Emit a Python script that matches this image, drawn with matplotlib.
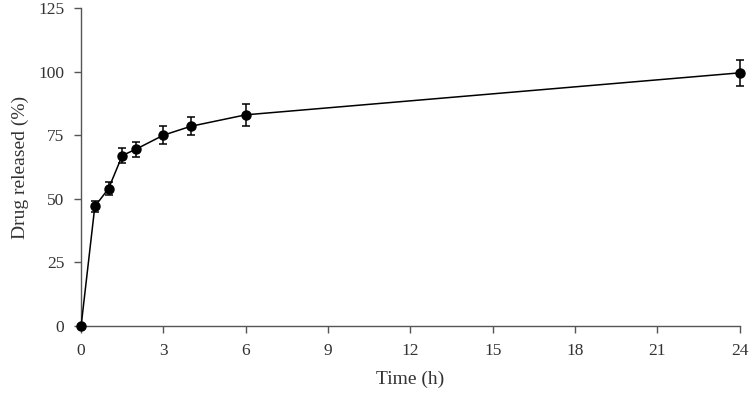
import numpy as np
import matplotlib
matplotlib.use("Agg")
import matplotlib.pyplot as plt

# Release data
time_h = [0, 0.5, 1, 1.5, 2, 3, 4, 6, 24]
released = [0, 47, 54, 67, 69.5, 75, 78.5, 83, 99.5]
err = [0, 2, 2.5, 3, 3, 3.5, 3.5, 4.3, 5]

x_ticks = [0, 3, 6, 9, 12, 15, 18, 21, 24]
y_ticks = [0, 25, 50, 75, 100, 125]

plt.rcParams['font.family'] = ['Liberation Serif', 'DejaVu Serif']

fig = plt.figure(figsize=(7.51, 3.99), dpi=100)
ax = fig.add_axes([0.108, 0.183, 0.877, 0.797])

ax.errorbar(time_h, released, yerr=err, color='black', marker='o', markersize=6.5,
            linewidth=1.1, elinewidth=1.1, capsize=3, capthick=1.1, clip_on=False, zorder=3)

ax.set_xlim(0, 24)
ax.set_ylim(0, 125)
ax.set_xticks(x_ticks)
ax.set_yticks(y_ticks)

for side in ['top', 'right']:
    ax.spines[side].set_visible(False)
for side in ['left', 'bottom']:
    ax.spines[side].set_color('#555555')
    ax.spines[side].set_linewidth(1.0)

ax.tick_params(direction='out', length=5, width=1, colors='#555555', labelcolor='#333333',
               labelsize=12.5, pad=7)

ax.set_xlabel("Time (h)", fontsize=14, color='#333333', labelpad=9)
ax.set_ylabel("Drug released (%)", fontsize=14, color='#333333', labelpad=7)

fig.savefig("out.png", dpi=100)
